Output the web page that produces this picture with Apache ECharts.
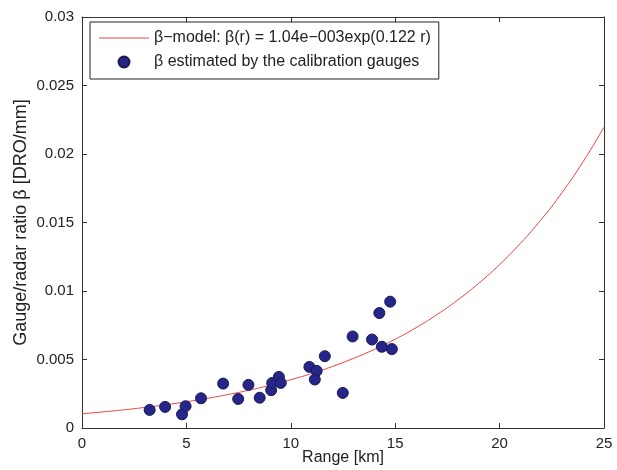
<!DOCTYPE html>
<html>
<head>
<meta charset="utf-8">
<script src="https://cdn.jsdelivr.net/npm/echarts@6/dist/echarts.min.js"></script>
<style>html,body{margin:0;padding:0;background:#fff;}#c{width:617px;height:470px;}</style>
</head>
<body>
<div id="c"></div>
<script>
// Gauge estimates: range [km] and beta [DRO/mm]
var gaugeRange = [3.24, 3.98, 4.79, 4.96, 5.70, 6.76, 7.48, 7.97, 8.51, 9.06, 9.11, 9.43, 9.52, 10.89, 11.24, 11.15, 11.63, 12.49, 12.96, 13.89, 14.24, 14.36, 14.76, 14.84];
var gaugeBeta = [0.00132, 0.00154, 0.00100, 0.00159, 0.00217, 0.00324, 0.00212, 0.00315, 0.00221, 0.00276, 0.00329, 0.00373, 0.00329, 0.00446, 0.00417, 0.00354, 0.00524, 0.00256, 0.00668, 0.00646, 0.00839, 0.00593, 0.00922, 0.00576];
// Model curve
var modelRange = [0,1,2,3,4,5,6,7,8,9,10,11,12,13,14,15,16,17,18,19,20,21,22,23,24,25];
var modelBeta = [0.00104,0.001175,0.001327,0.00150,0.001694,0.001914,0.002162,0.002443,0.00276,0.003118,0.003523,0.00398,0.004496,0.00508,0.005739,0.006483,0.007325,0.008275,0.009349,0.010562,0.011932,0.01348,0.015229,0.017206,0.019438,0.02196];
var xTicks = [0,5,10,15,20,25];
var yTicks = ['0','0.005','0.01','0.015','0.02','0.025','0.03'];

var lineName = 'β\u2212model: β(r) = 1.04e\u2212003exp(0.122 r)';
var dotName = 'β estimated by the calibration gauges';

function zip(a,b){var o=[];for(var i=0;i<a.length;i++)o.push([a[i],b[i]]);return o;}

var font = 'Liberation Sans';
var txt = '#222';
var chart = echarts.init(document.getElementById('c'), null, {renderer:'canvas'});
function axisCommon(){
  return {
    axisLine:{show:true,onZero:false,lineStyle:{color:'#333',width:1}},
    axisTick:{show:true,inside:true,length:5,lineStyle:{color:'#333'}},
    splitLine:{show:false}
  };
}
chart.setOption({
  animation:false,
  backgroundColor:'#fff',
  textStyle:{fontFamily:font},
  grid:{left:82,right:13,top:17,bottom:42,containLabel:false,outerBoundsMode:'none'},
  legend:{
    orient:'vertical', left:90, top:22,
    padding:[8,8,9,9], itemGap:8, itemWidth:50, itemHeight:11, itemTextGap:2,
    borderColor:'#222', borderWidth:1, backgroundColor:'#fff',
    textStyle:{fontFamily:font,fontSize:16,color:txt},
    data:[{name:lineName,icon:'path://M0 0H50V1.1H0Z'}, {name:dotName,icon:'circle'}]
  },
  xAxis:[
    Object.assign({type:'value',min:0,max:25,interval:5,position:'bottom',
      name:'Range [km]',nameLocation:'middle',nameGap:22,nameMoveOverlap:false,
      nameTextStyle:{fontFamily:font,fontSize:16,color:txt},
      axisLabel:{fontFamily:font,fontSize:15,color:txt,margin:8,
        formatter:function(v){return xTicks.indexOf(v)>=0?String(v):'';}}},axisCommon()),
    Object.assign({type:'value',min:0,max:25,interval:5,position:'top',axisLabel:{show:false}},axisCommon())
  ],
  yAxis:[
    Object.assign({type:'value',min:0,max:0.03,interval:0.005,position:'left',
      name:'Gauge/radar ratio β [DRO/mm]',nameLocation:'middle',nameGap:52,nameMoveOverlap:false,
      nameTextStyle:{fontFamily:font,fontSize:18,color:txt},
      axisLabel:{fontFamily:font,fontSize:15,color:txt,margin:8,
        formatter:function(v){var i=Math.round(v/0.005);return yTicks[i]!==undefined?yTicks[i]:'';}}},axisCommon()),
    Object.assign({type:'value',min:0,max:0.03,interval:0.005,position:'right',axisLabel:{show:false}},axisCommon())
  ],
  series:[
    {name:lineName,type:'line',data:zip(modelRange,modelBeta),smooth:true,symbol:'none',
      lineStyle:{color:'#e8463f',width:1},itemStyle:{color:'#e8463f'},z:2},
    {name:dotName,type:'scatter',data:zip(gaugeRange,gaugeBeta),symbol:'circle',symbolSize:11,
      itemStyle:{color:'#26268a',borderColor:'#1a1a55',borderWidth:1,opacity:1},z:3}
  ]
});
</script>
</body>
</html>
